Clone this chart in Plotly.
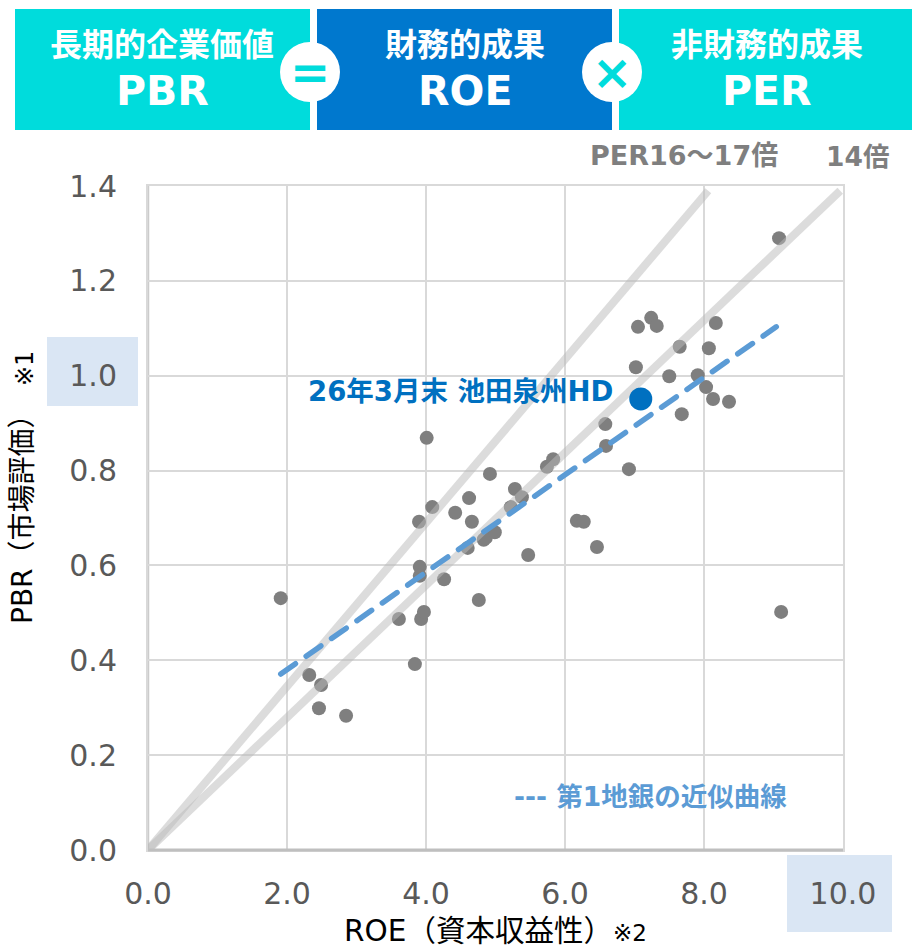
import plotly.graph_objects as go

W, H = 912, 948
L, R, T, B = 148, 843, 186, 850
FONT = "DejaVu Sans, Noto Sans CJK JP, sans-serif"

roe = [1.91, 2.32, 2.49, 2.46, 2.85, 3.61, 3.84, 3.91, 3.91, 3.93, 3.97, 3.90, 4.01, 4.09, 4.26, 4.42, 4.60,
       4.62, 4.66, 4.76, 4.83, 4.86, 4.92, 4.99, 5.22, 5.28, 5.38, 5.47, 5.74, 5.83, 6.17, 6.27, 6.46, 6.58,
       6.59, 6.92, 7.02, 7.05, 7.24, 7.32, 7.50, 7.65, 7.68, 7.91, 8.03, 8.07, 8.13, 8.17, 8.36, 9.08, 9.11]
pbr = [0.531, 0.369, 0.348, 0.299, 0.283, 0.487, 0.392, 0.597, 0.578, 0.487, 0.502, 0.692, 0.869, 0.723, 0.571,
       0.711, 0.637, 0.742, 0.692, 0.527, 0.654, 0.658, 0.793, 0.670, 0.723, 0.761, 0.744, 0.622, 0.808, 0.824,
       0.694, 0.692, 0.639, 0.898, 0.852, 0.803, 1.018, 1.103, 1.122, 1.105, 0.999, 1.061, 0.919, 1.001, 0.976,
       1.058, 0.951, 1.111, 0.945, 1.290, 0.502]
ikeda_roe = [7.09]
ikeda_pbr = [0.951]
per16_x = [0.0, 8.06]
per16_y = [0.0, 1.39]
per14_x = [0.0, 9.96]
per14_y = [0.0, 1.39]
trend_x = [1.91, 9.04]
trend_y = [0.371, 1.103]
x_ticks = [0, 2, 4, 6, 8, 10]
y_ticks = [0, 0.2, 0.4, 0.6, 0.8, 1.0, 1.2, 1.4]
x_labels = ["0.0", "2.0", "4.0", "6.0", "8.0", "10.0"]
y_labels = ["0.0", "0.2", "0.4", "0.6", "0.8", "1.0", "1.2", "1.4"]

CYAN, BLUE, HL = "#00DCDC", "#0078CE", "#DAE6F4"


def px(x):
    return (x - L) / (R - L)


def py(y):
    return (B - y) / (B - T)


def rect(x0, y0, x1, y1, color):
    return dict(type="rect", xref="paper", yref="paper", x0=px(x0), x1=px(x1), y0=py(y1), y1=py(y0),
                fillcolor=color, line_width=0, layer="below")


def circle(cx, cy, r):
    return dict(type="circle", xref="paper", yref="paper", x0=px(cx - r), x1=px(cx + r), y0=py(cy + r),
                y1=py(cy - r), fillcolor="white", line_width=0, layer="below")


def label(text, x, y, size, color, bold=True, anchor="center", angle=0):
    return dict(text=f"<b>{text}</b>" if bold else text, x=px(x), y=py(y), xref="paper", yref="paper",
                showarrow=False, xanchor=anchor, yanchor="middle", textangle=angle,
                font=dict(family=FONT, size=size, color=color))


fig = go.Figure()
fig.add_trace(go.Scatter(x=roe, y=pbr, mode="markers", marker=dict(size=14, color="#7F7F7F"), name="地銀"))
fig.add_trace(go.Scatter(x=per16_x, y=per16_y, mode="lines", line=dict(color="rgba(185,185,185,0.5)", width=8),
                         name="PER16〜17倍", cliponaxis=False))
fig.add_trace(go.Scatter(x=per14_x, y=per14_y, mode="lines", line=dict(color="rgba(185,185,185,0.5)", width=8),
                         name="14倍", cliponaxis=False))
fig.add_trace(go.Scatter(x=trend_x, y=trend_y, mode="lines", line=dict(color="#5B9BD5", width=5.5, dash="18px,13px"),
                         name="第1地銀の近似曲線"))
fig.add_trace(go.Scatter(x=ikeda_roe, y=ikeda_pbr, mode="markers", marker=dict(size=23, color="#0070C0"),
                         name="池田泉州HD"))

axis = dict(showline=True, mirror=True, linecolor="#D9D9D9", linewidth=2, gridcolor="#D9D9D9", gridwidth=2,
            zeroline=False, ticks="", tickfont=dict(family=FONT, size=30, color="#595959"))
fig.update_xaxes(range=[0, 10], tickvals=x_ticks, ticktext=x_labels, ticklabelstandoff=16,
                 title=dict(text="ROE（資本収益性）<span style='font-size:23px'>※2</span>", standoff=20,
                            font=dict(family=FONT, size=29.5, color="#000000")), **axis)
fig.update_yaxes(range=[0, 1.4], tickvals=y_ticks, ticktext=y_labels, ticklabelstandoff=23, **axis)

fig.update_layout(
    width=W, height=H, showlegend=False, paper_bgcolor="white", plot_bgcolor="rgba(0,0,0,0)",
    margin=dict(l=L, r=W - R, t=T, b=H - B, autoexpand=False),
    shapes=[
        rect(15, 9, 310, 130, CYAN), rect(317, 9, 612, 130, BLUE), rect(619, 9, 912, 130, CYAN),
        circle(310, 72, 30), circle(612, 72, 30),
        rect(47, 337, 138, 406, HL), rect(787, 855, 892, 932, HL),
        dict(type="line", xref="paper", yref="paper", x0=0, x1=1, y0=0, y1=0,
             line=dict(color="#BFBFBF", width=3), layer="above"),
        dict(type="line", xref="paper", yref="paper", x0=0, x1=0, y0=0, y1=1,
             line=dict(color="#CCCCCC", width=2.5), layer="below"),
    ],
    annotations=[
        label("長期的企業価値", 162, 45, 32, "white"), label("PBR", 162, 91, 41, "white"),
        label("財務的成果", 465, 45, 32, "white"), label("ROE", 465, 91, 41, "white"),
        label("非財務的成果", 767, 45, 32, "white"), label("PER", 767, 91, 41, "white"),
        label("=", 310, 72, 48, CYAN), label("×", 612, 72, 48, CYAN),
        label("PER16〜17倍", 684, 155, 27, "#7F7F7F"), label("14倍", 857, 157, 26.5, "#7F7F7F"),
        label("26年3月末 池田泉州HD", 460, 391, 27.5, "#0070C0"),
        label("--- 第1地銀の近似曲線", 650, 796, 26.5, "#5B9BD5"),
        label("PBR（市場評価）", 22, 512, 28, "#000000", bold=False, angle=-90),
        label("※1", 25, 369, 24, "#000000", bold=False, angle=-90),
    ],
)

post = """
document.body.style.margin='0';
document.documentElement.style.overflow='hidden';
document.querySelectorAll('.scatterlayer .js-line').forEach(function(p){
  if((p.style.strokeDasharray||'')!=='' && p.style.strokeDasharray!=='none'){p.style.strokeLinecap='round';}
});
"""
fig.write_html("out.html", post_script=post, config=dict(displayModeBar=False))
